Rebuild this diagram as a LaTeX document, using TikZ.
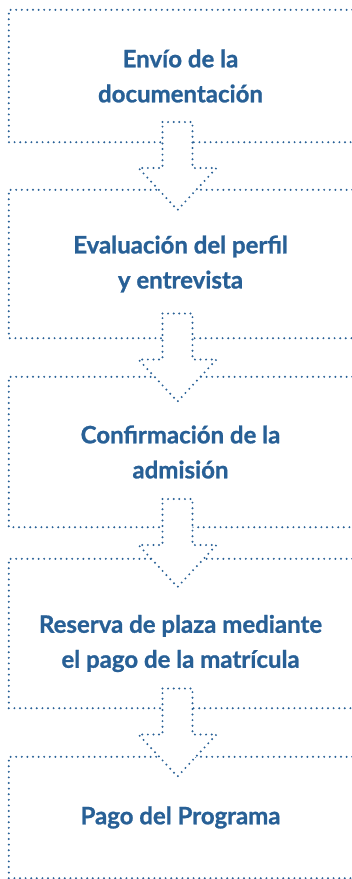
\documentclass[tikz,border=0pt]{standalone}
\usepackage{fontspec}
\setmainfont{Lato}[BoldFeatures={FakeBold=1}]
\usetikzlibrary{calc}
\definecolor{azul}{RGB}{40,96,150}

\begin{document}
\begin{tikzpicture}[x=1pt,y=-1pt,
  puntos/.style={azul,line width=2.2pt,line cap=round,dash pattern=on 0pt off 5.6pt},
  caja/.style={minimum width=343pt,inner sep=0pt},
  texto/.style={align=center,text=azul,inner sep=0pt,
    font=\fontsize{24}{35}\selectfont\bfseries},
  flecha/.pic={\draw[puntos,fill=white] (-15,-44) -- (15,-44) -- (15,2) -- (39,2)
    -- (0,44) -- (-39,2) -- (-15,2) -- cycle;}]

\useasboundingbox (0,0) rectangle (352,879);

\node[caja,minimum height=132pt] (c1) at (180.5,76) {};
\node[caja,minimum height=148pt] (c2) at (180.5,264) {};
\node[caja,minimum height=150pt] (c3) at (180.5,452) {};
\node[caja,minimum height=149pt] (c4) at (180.5,633.5) {};
\node[caja,minimum height=121pt] (c5) at (180.5,817.5) {};

\node[texto] (t1) at (c1) {Envío de la\\documentación};
\node[texto] (t2) at (c2) {Evaluación del perfil\\y entrevista};
\node[texto] (t3) at (c3) {Confirmación de la\\admisión};
\node[texto,yshift=-10pt] (t4) at (c4) {Reserva de plaza mediante\\el pago de la matrícula};
\node[texto] (t5) at (c5) {Pago del Programa};

% cajas abiertas por la derecha
\foreach \c in {c1,c2,c3,c4,c5}
  \draw[puntos] (\c.north east) -- (\c.north west) -- (\c.south west) -- (\c.south east);

% flechas entre cajas
\foreach \i/\j in {1/2,2/3,3/4,4/5}
  \pic at ($(c\i.south)!0.5!(c\j.north)+(-3,0)$) {flecha};

\end{tikzpicture}
\end{document}
